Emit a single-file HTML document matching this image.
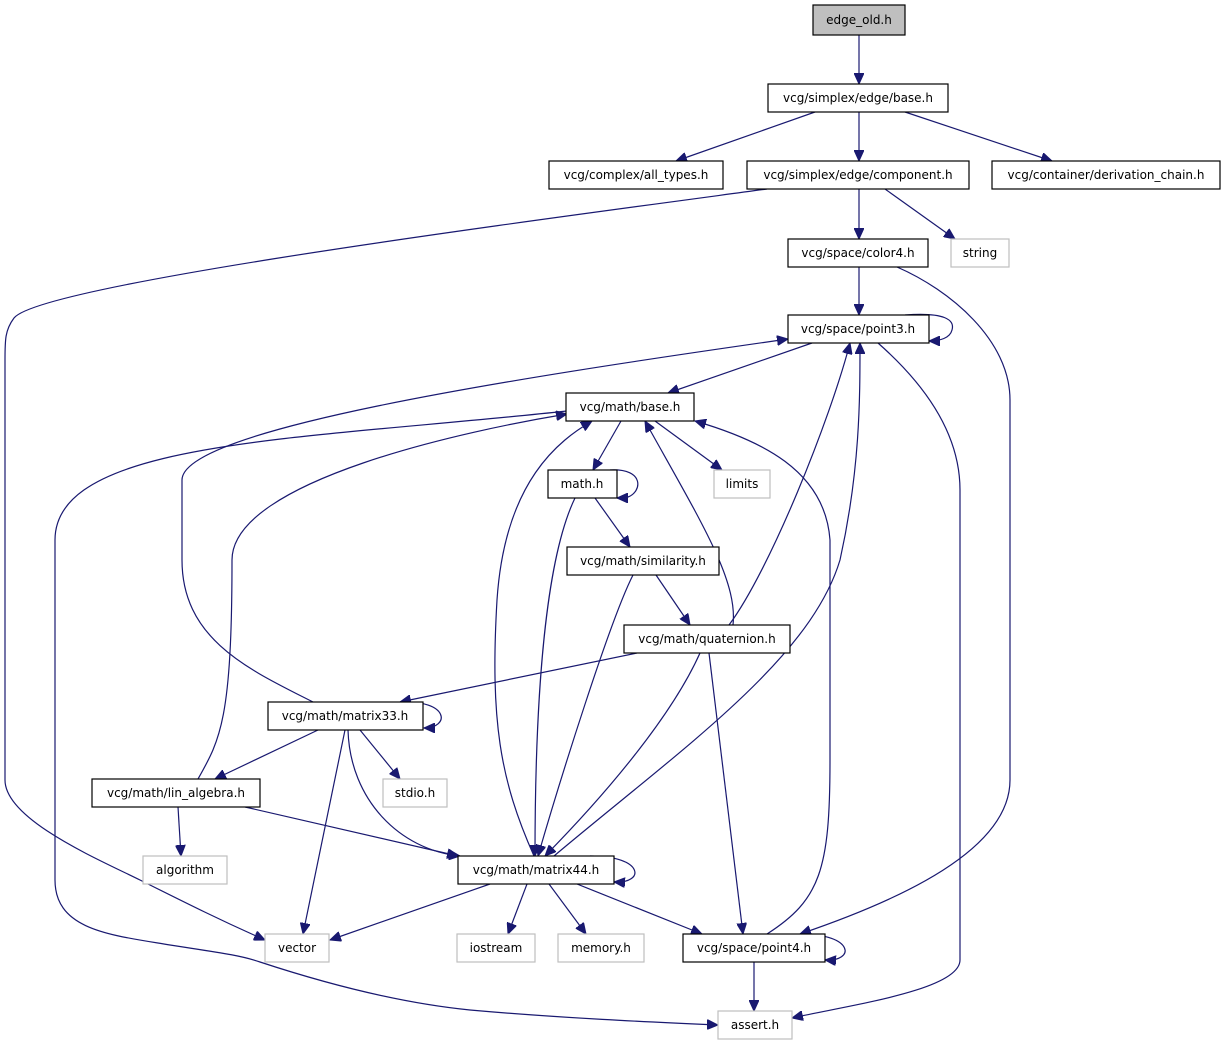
<!DOCTYPE html>
<html><head><meta charset="utf-8"><style>
html,body{margin:0;padding:0;background:#fff;}
svg{display:block;}
text{font-family:"DejaVu Sans","Liberation Sans",sans-serif;font-size:12px;fill:#000;}
.e{fill:none;stroke:#191970;stroke-width:1.2;marker-end:url(#a);}
.n{fill:#fff;stroke:#000;stroke-width:1.2;}
.g{fill:#fff;stroke:#bfbfbf;stroke-width:1.2;}
</style></head><body>
<svg width="1225" height="1045" viewBox="0 0 1225 1045" xmlns="http://www.w3.org/2000/svg">
<defs><marker id="a" markerWidth="12" markerHeight="10" refX="11" refY="5" orient="auto" markerUnits="userSpaceOnUse"><path d="M0,0 L11,5 L0,10 z" fill="#191970" stroke="#191970"/></marker></defs>

<!-- edges -->
<path class="e" d="M859,35 L859,84"/>
<path class="e" d="M815,112 L676,161"/>
<path class="e" d="M859,112 L859,161"/>
<path class="e" d="M905,112 L1052,161"/>
<path class="e" d="M767,189 C500,225 40,285 14,318 C5,330 5,340 5,360 L5,780 C5,820 100,860 140,880 C190,905 220,920 265,940"/>
<path class="e" d="M859,189 L859,239"/>
<path class="e" d="M885,189 L955,239"/>
<path class="e" d="M859,267 L859,315"/>
<path class="e" d="M897,267 C950,290 1010,340 1010,400 L1010,780 C1010,850 900,900 800,934"/>
<path class="e" d="M905,315 C945,312 955,320 952,330 C950,338 940,341 929,341"/>
<path class="e" d="M812,343 L668,393"/>
<path class="e" d="M878,343 C920,380 960,430 960,490 L960,960 C960,990 850,1005 792,1018"/>
<path class="e" d="M621,421 L593,470"/>
<path class="e" d="M655,421 L722,470"/>
<path class="e" d="M567,411 C300,440 55,440 55,540 L55,880 C55,930 110,935 170,945 C215,952 240,955 260,962 C330,985 400,1003 470,1010 C560,1018 650,1022 718,1025"/>
<path class="e" d="M610,470 C645,468 642,492 628,497 C624,498 620,498 617,498"/>
<path class="e" d="M595,498 L630,547"/>
<path class="e" d="M575,498 C545,560 535,700 535,856"/>
<path class="e" d="M656,575 L690,625"/>
<path class="e" d="M633,575 C610,620 560,780 538,856"/>
<path class="e" d="M733,625 C738,580 700,520 645,421"/>
<path class="e" d="M729,625 C770,570 830,420 850,343"/>
<path class="e" d="M637,653 L400,702"/>
<path class="e" d="M700,653 C670,720 600,800 545,856"/>
<path class="e" d="M709,653 L743,934"/>
<path class="e" d="M313,702 C250,670 182,640 182,560 L182,480 C182,430 500,380 788,339"/>
<path class="e" d="M198,779 C220,740 232,720 232,560 C232,480 470,430 567,414"/>
<path class="e" d="M400,702 C450,700 450,728 424,728"/>
<path class="e" d="M318,730 L215,779"/>
<path class="e" d="M360,730 L400,779"/>
<path class="e" d="M345,730 L303,934"/>
<path class="e" d="M348,730 C350,800 400,850 460,856"/>
<path class="e" d="M178,807 L181,856"/>
<path class="e" d="M245,807 L458,856"/>
<path class="e" d="M534,856 C500,780 490,720 497,600 C505,480 560,440 592,421"/>
<path class="e" d="M554,856 C680,750 810,660 840,560 C860,470 860,400 860,343"/>
<path class="e" d="M590,856 C645,856 645,884 614,882"/>
<path class="e" d="M490,884 L330,940"/>
<path class="e" d="M527,884 L508,934"/>
<path class="e" d="M549,884 L586,934"/>
<path class="e" d="M577,884 L702,934"/>
<path class="e" d="M767,934 C820,900 830,870 830,760 L830,540 C825,470 760,440 695,421"/>
<path class="e" d="M800,934 C855,934 855,962 825,960"/>
<path class="e" d="M754,962 L754,1011"/>

<!-- nodes -->
<rect x="813" y="5" width="92" height="30" fill="#bfbfbf" stroke="#000" stroke-width="1.2"/>
<text x="859" y="24" text-anchor="middle">edge_old.h</text>
<rect class="n" x="768" y="84" width="180" height="28"/><text x="858" y="102" text-anchor="middle">vcg/simplex/edge/base.h</text>
<rect class="n" x="549" y="161" width="174" height="28"/><text x="636" y="179" text-anchor="middle">vcg/complex/all_types.h</text>
<rect class="n" x="747" y="161" width="222" height="28"/><text x="858" y="179" text-anchor="middle">vcg/simplex/edge/component.h</text>
<rect class="n" x="992" y="161" width="228" height="28"/><text x="1106" y="179" text-anchor="middle">vcg/container/derivation_chain.h</text>
<rect class="n" x="788" y="239" width="140" height="28"/><text x="858" y="257" text-anchor="middle">vcg/space/color4.h</text>
<rect class="g" x="951" y="239" width="58" height="28"/><text x="980" y="257" text-anchor="middle">string</text>
<rect class="n" x="788" y="315" width="141" height="28"/><text x="858" y="333" text-anchor="middle">vcg/space/point3.h</text>
<rect class="n" x="566" y="393" width="128" height="28"/><text x="630" y="411" text-anchor="middle">vcg/math/base.h</text>
<rect class="n" x="548" y="470" width="69" height="28"/><text x="582" y="488" text-anchor="middle">math.h</text>
<rect class="g" x="714" y="470" width="56" height="28"/><text x="742" y="488" text-anchor="middle">limits</text>
<rect class="n" x="567" y="547" width="152" height="28"/><text x="643" y="565" text-anchor="middle">vcg/math/similarity.h</text>
<rect class="n" x="624" y="625" width="166" height="28"/><text x="707" y="643" text-anchor="middle">vcg/math/quaternion.h</text>
<rect class="n" x="268" y="702" width="155" height="28"/><text x="345" y="720" text-anchor="middle">vcg/math/matrix33.h</text>
<rect class="n" x="92" y="779" width="168" height="28"/><text x="176" y="797" text-anchor="middle">vcg/math/lin_algebra.h</text>
<rect class="g" x="383" y="779" width="64" height="28"/><text x="415" y="797" text-anchor="middle">stdio.h</text>
<rect class="g" x="143" y="856" width="84" height="28"/><text x="185" y="874" text-anchor="middle">algorithm</text>
<rect class="n" x="458" y="856" width="156" height="28"/><text x="536" y="874" text-anchor="middle">vcg/math/matrix44.h</text>
<rect class="g" x="265" y="934" width="64" height="28"/><text x="297" y="952" text-anchor="middle">vector</text>
<rect class="g" x="457" y="934" width="78" height="28"/><text x="496" y="952" text-anchor="middle">iostream</text>
<rect class="g" x="558" y="934" width="86" height="28"/><text x="601" y="952" text-anchor="middle">memory.h</text>
<rect class="n" x="683" y="934" width="142" height="28"/><text x="754" y="952" text-anchor="middle">vcg/space/point4.h</text>
<rect class="g" x="718" y="1011" width="74" height="28"/><text x="755" y="1029" text-anchor="middle">assert.h</text>
</svg>
</body></html>
